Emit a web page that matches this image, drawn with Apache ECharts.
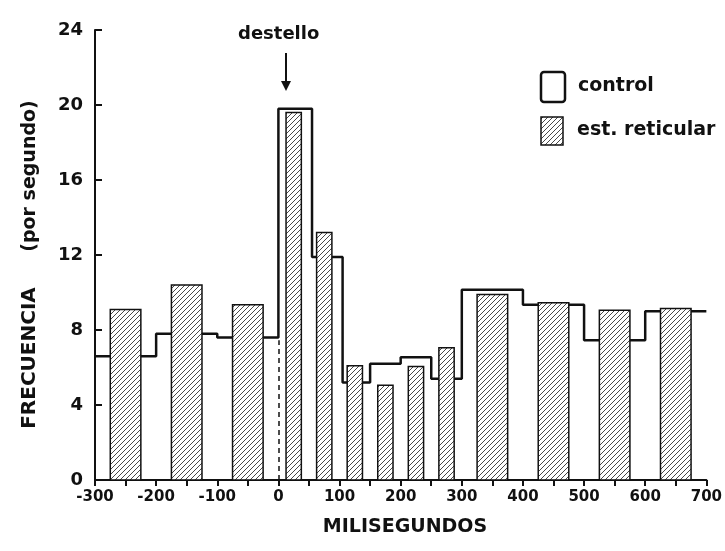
<!DOCTYPE html>
<html>
<head>
<meta charset="utf-8">
<script src="https://cdn.jsdelivr.net/npm/echarts@6/dist/echarts.min.js"></script>
<style>
html,body{margin:0;padding:0;background:#fff;}
#chart{width:725px;height:551px;}
</style>
</head>
<body>
<div id="chart"></div>
<script>
// ---- data (ms, spikes per second) ----
const controlEdges = [-300, -200, -100, 0, 55, 105, 150, 200, 250, 300, 400, 500, 600, 700];
const controlValues = [6.6, 7.8, 7.6, 19.8, 11.9, 5.2, 6.2, 6.55, 5.4, 10.15, 9.35, 7.45, 9.0];
const reticStart = [-275, -175, -75, 12.5, 62.5, 112.5, 162.5, 212.5, 262.5, 325, 425, 525, 625];
const reticEnd = [-225, -125, -25, 37.5, 87.5, 137.5, 187.5, 237.5, 287.5, 375, 475, 575, 675];
const reticValues = [9.1, 10.4, 9.35, 19.6, 13.2, 6.1, 5.05, 6.05, 7.05, 9.9, 9.45, 9.05, 9.15];
const flashTime = 0;
const flashPrevLevel = 7.45;

// ---- hatch pattern ----
function makeHatch() {
  const s = 5;
  const c = document.createElement('canvas');
  c.width = s; c.height = s;
  const g = c.getContext('2d');
  g.fillStyle = '#fff';
  g.fillRect(0, 0, s, s);
  g.strokeStyle = '#333';
  g.lineWidth = 0.9;
  g.beginPath();
  g.moveTo(-1, s + 1); g.lineTo(s + 1, -1);
  g.moveTo(-1, 1); g.lineTo(1, -1);
  g.moveTo(s - 1, s + 1); g.lineTo(s + 1, s - 1);
  g.stroke();
  return c;
}
const hatch = makeHatch();
const hatchFill = { image: hatch, repeat: 'repeat' };

const controlData = controlValues.map((v, i) => [controlEdges[i], v]);
controlData.push([controlEdges[controlEdges.length - 1], controlValues[controlValues.length - 1]]);
const reticData = reticValues.map((v, i) => [reticStart[i], reticEnd[i], v]);

const FONT = 'DejaVu Sans';
const chart = echarts.init(document.getElementById('chart'), null, { renderer: 'canvas' });
chart.setOption({
  backgroundColor: '#fff',
  animation: false,
  grid: { left: 95, right: 17, top: 30, bottom: 71 },
  xAxis: {
    type: 'value', min: -300, max: 700, interval: 50,
    axisLine: { show: true, onZero: false, lineStyle: { color: '#111', width: 2 } },
    axisTick: { show: true, inside: false, length: 6, lineStyle: { color: '#111', width: 2 } },
    splitLine: { show: false },
    axisLabel: {
      color: '#111', fontFamily: FONT, fontWeight: 'bold', fontSize: 15, margin: 10,
      formatter: v => (v % 100 === 0 ? String(v) : '')
    }
  },
  yAxis: {
    type: 'value', min: 0, max: 24, interval: 4,
    axisLine: { show: true, onZero: false, lineStyle: { color: '#111', width: 2 } },
    axisTick: { show: true, inside: true, length: 7, lineStyle: { color: '#111', width: 2 } },
    splitLine: { show: false },
    axisLabel: { color: '#111', fontFamily: FONT, fontWeight: 'bold', fontSize: 18, margin: 12 }
  },
  series: [
    {
      name: 'control', type: 'line', step: 'end', data: controlData,
      symbol: 'none', z: 2,
      lineStyle: { color: '#111', width: 2.5 },
      markLine: {
        silent: true, symbol: 'none', label: { show: false },
        lineStyle: { color: '#111', type: [5, 4], width: 1.5 },
        data: [[{ coord: [flashTime, 0] }, { coord: [flashTime, flashPrevLevel] }]]
      }
    },
    {
      name: 'est. reticular', type: 'custom', z: 3,
      data: reticData,
      encode: { x: [0, 1], y: 2 },
      renderItem: function (params, api) {
        const p0 = api.coord([api.value(0), api.value(2)]);
        const p1 = api.coord([api.value(1), 0]);
        return {
          type: 'rect',
          shape: { x: p0[0], y: p0[1], width: p1[0] - p0[0], height: p1[1] - p0[1] },
          style: { fill: hatchFill, stroke: '#111', lineWidth: 1.5 }
        };
      }
    }
  ],
  graphic: [
    { type: 'text', left: 238, top: 25, style: { text: 'destello', font: 'bold 18px ' + FONT, fill: '#111' } },
    { type: 'line', shape: { x1: 286, y1: 53, x2: 286, y2: 84 }, style: { stroke: '#111', lineWidth: 2 } },
    { type: 'polygon', shape: { points: [[281, 81], [291, 81], [286, 91]] }, style: { fill: '#111' } },
    // legend
    { type: 'rect', shape: { x: 541, y: 72, width: 24, height: 30, r: 3 }, style: { fill: '#fff', stroke: '#111', lineWidth: 2.5 } },
    { type: 'text', left: 578, top: 77, style: { text: 'control', font: 'bold 19px ' + FONT, fill: '#111' } },
    { type: 'rect', shape: { x: 541, y: 117, width: 22, height: 28 }, style: { fill: hatchFill, stroke: '#111', lineWidth: 1.5 } },
    { type: 'text', left: 577, top: 121, style: { text: 'est. reticular', font: 'bold 19px ' + FONT, fill: '#111' } },
    // axis titles
    { type: 'text', x: 405, y: 527, style: { text: 'MILISEGUNDOS', font: 'bold 19px ' + FONT, fill: '#111', align: 'center', verticalAlign: 'middle' } },
    { type: 'text', x: 30, y: 358, rotation: Math.PI / 2, style: { text: 'FRECUENCIA', font: 'bold 20px ' + FONT, fill: '#111', align: 'center', verticalAlign: 'middle' } },
    { type: 'text', x: 30, y: 176, rotation: Math.PI / 2, style: { text: '(por segundo)', font: 'bold 19px ' + FONT, fill: '#111', align: 'center', verticalAlign: 'middle' } }
  ]
});
</script>
</body>
</html>
